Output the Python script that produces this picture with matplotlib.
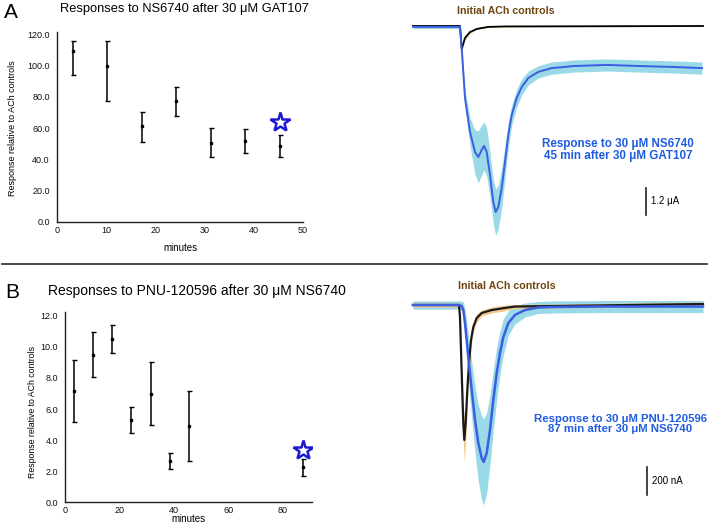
import numpy as np
import matplotlib
matplotlib.use("Agg")
import matplotlib.pyplot as plt
from matplotlib.ticker import FormatStrFormatter

plt.rcParams['font.family'] = ['Liberation Sans', 'DejaVu Sans']

# ---------------- Data: panel A (time course) ----------------
a_minutes = [3.4, 10.3, 17.3, 24.3, 31.3, 38.3, 45.3]
a_resp = [109.5, 100.0, 61.0, 77.0, 50.5, 52.0, 48.5]
a_err_lo = [15.5, 22.5, 9.8, 9.5, 9.0, 7.8, 7.1]
a_err_hi = [6.5, 16.0, 9.5, 9.2, 9.3, 7.2, 6.8]
a_star_x = [45.3]
a_star_y = [64.0]

# ---------------- Data: panel B (time course) ----------------
b_minutes = [3.3, 10.4, 17.4, 24.3, 31.4, 38.4, 45.4, 87.3]
b_resp = [7.18, 9.49, 10.5, 5.29, 6.98, 2.66, 4.91, 2.25]
b_err_lo = [1.99, 1.41, 0.9, 0.81, 2.03, 0.52, 2.25, 0.58]
b_err_hi = [1.97, 1.44, 0.9, 0.81, 2.02, 0.49, 2.22, 0.55]
b_star_x = [87.3]
b_star_y = [3.36]

# ---------------- Data: panel A traces (s, uA) ----------------
a_t_blue = [-47, -5, 0, 1.7, 5, 10, 15, 18.3, 21.7, 24, 26.7, 30, 33.3, 35.7, 38.3,
            41.7, 45, 48.3, 51.7, 56.7, 61.7, 68.3, 78.3, 91.7, 105, 113, 147, 180, 213, 242]
a_i_blue = [-0.04, -0.04, -0.04, -0.98, -3.20, -4.71, -5.60, -5.82, -5.51, -5.33, -5.60,
            -6.62, -7.82, -8.27, -8.04, -7.20, -6.04, -4.84, -3.96, -3.20, -2.71, -2.31,
            -2.04, -1.87, -1.82, -1.78, -1.73, -1.78, -1.82, -1.87]
a_sem_blue = [0.07, 0.07, 0.09, 0.18, 0.36, 0.62, 0.98, 1.16, 1.11, 1.07, 1.07, 0.98,
              0.98, 1.02, 0.98, 0.89, 0.71, 0.58, 0.44, 0.40, 0.36, 0.31, 0.27, 0.27,
              0.27, 0.27, 0.27, 0.27, 0.27, 0.27]
a_t_ctrl = [-47, 0, 1.0, 1.7, 5, 10, 16.7, 28.3, 45, 243]
a_i_ctrl = [0.0, 0.0, -0.62, -1.02, -0.53, -0.27, -0.13, -0.04, -0.02, 0.0]
a_sem_ctrl = [0.02, 0.02, 0.08, 0.10, 0.08, 0.05, 0.03, 0.02, 0.02, 0.02]

# ---------------- Data: panel B traces (s, nA) ----------------
b_t_blue = [-47, -1, 1.7, 3.3, 5, 8.3, 11.7, 15, 18.3, 21.7, 23.7, 26.7, 30, 33.3, 36.7,
            40, 43.3, 48.3, 55, 65, 78, 95, 140, 190, 243]
b_i_blue = [0, 0, -7, -36, -129, -371, -607, -821, -986, -1093, -1121, -1057, -893,
            -679, -486, -343, -229, -129, -71, -36, -18, -14, -11, -11, -11]
b_sem_blue = [29, 29, 36, 57, 100, 157, 200, 236, 271, 300, 307, 286, 250, 214, 186,
              157, 129, 86, 64, 50, 43, 43, 43, 43, 43]
b_t_ctrl = [-47, -1, 0, 1.7, 3.3, 4.3, 5.7, 7.3, 9, 11, 13.3, 16.7, 21.7, 31.7, 45, 55, 243]
b_i_ctrl = [0, 0, -86, -486, -843, -964, -843, -607, -414, -250, -157, -93, -57, -36,
            -21, -11, 7]
b_sem_ctrl = [14, 14, 36, 86, 129, 157, 129, 100, 71, 50, 36, 29, 21, 21, 21, 14, 14]

# ---------------- Layout helpers ----------------
W, H = 709, 526
fig = plt.figure(figsize=(W / 100, H / 100), dpi=100)


def fx(px):
    return px / W


def fy(py):
    return 1 - py / H


def add_axes_px(left, top, right, bottom):
    return fig.add_axes([fx(left), fy(bottom), (right - left) / W, (bottom - top) / H])


BLUE_TXT = '#1f5ce0'
BROWN_TXT = '#6e4510'
LINE_BLUE = '#3a5fe0'
BAND = '#9ad9e8'


def style_timecourse(ax):
    for s in ['top', 'right']:
        ax.spines[s].set_visible(False)
    for s in ['left', 'bottom']:
        ax.spines[s].set_linewidth(1.0)
        ax.spines[s].set_color('#222222')
    ax.tick_params(length=0, labelsize=6.5, colors='#111111')
    ax.tick_params(axis='y', pad=5)
    ax.tick_params(axis='x', pad=3)
    ax.yaxis.set_major_formatter(FormatStrFormatter('%.1f'))


# ---------------- Panel A time course ----------------
axA = add_axes_px(56.7, 32.3, 302.7, 221.7)
axA.errorbar(a_minutes, a_resp, yerr=[a_err_lo, a_err_hi], fmt='s', ms=2, color='black',
             ecolor='black', elinewidth=1.1, capsize=1.8, capthick=1.0)
axA.plot(a_star_x, a_star_y, marker='*', ms=15, mfc='white', mec='#1a1ad0', mew=1.8,
         linestyle='none')
axA.set_xlim(0, 50)
axA.set_ylim(0, 121.3)
axA.set_xticks([0, 10, 20, 30, 40, 50])
axA.set_yticks([0, 20, 40, 60, 80, 100, 120])
style_timecourse(axA)
axA.xaxis.set_major_formatter(FormatStrFormatter('%d'))

fig.text(fx(13), fy(128), 'Response relative to ACh controls', rotation=90,
         ha='center', va='center', fontsize=6.5)
fig.text(fx(180), fy(248), 'minutes', ha='center', va='center', fontsize=7)
fig.text(fx(4), fy(13), 'A', ha='left', va='center', fontsize=15)
fig.text(fx(60), fy(9), 'Responses to NS6740 after 30 \u03bcM GAT107', ha='left',
         va='center', fontsize=9.3)

# ---------------- Panel B time course ----------------
axB = add_axes_px(65, 312.3, 311.7, 502.3)
axB.errorbar(b_minutes, b_resp, yerr=[b_err_lo, b_err_hi], fmt='s', ms=2, color='black',
             ecolor='black', elinewidth=1.1, capsize=1.8, capthick=1.0)
axB.plot(b_star_x, b_star_y, marker='*', ms=15, mfc='white', mec='#1a1ad0', mew=1.8,
         linestyle='none')
axB.set_xlim(0, 90.5)
axB.set_ylim(0, 12.22)
axB.set_xticks([0, 20, 40, 60, 80])
axB.set_yticks([0, 2, 4, 6, 8, 10, 12])
style_timecourse(axB)
axB.xaxis.set_major_formatter(FormatStrFormatter('%d'))

fig.text(fx(33), fy(412), 'Response relative to ACh controls', rotation=90,
         ha='center', va='center', fontsize=6.3)
fig.text(fx(188), fy(519.5), 'minutes', ha='center', va='center', fontsize=7)
fig.text(fx(5), fy(293), 'B', ha='left', va='center', fontsize=15)
fig.text(fx(48), fy(291), 'Responses to PNU-120596 after 30 \u03bcM NS6740', ha='left',
         va='center', fontsize=10)

# ---------------- Separator ----------------
fig.add_artist(plt.Line2D([fx(2), fx(707)], [fy(264), fy(264)], color='#3a3a3a', lw=1.3))

# ---------------- Panel A traces ----------------
uA_per_px = 1.2 / 27.0
axTA = add_axes_px(405, 0, 709, 240)
axTA.set_xlim(405 - 460, 709 - 460)
axTA.set_ylim(-(240 - 26) * uA_per_px, 26 * uA_per_px)
axTA.axis('off')
tb = np.array(a_t_blue); ib = np.array(a_i_blue); sb = np.array(a_sem_blue)
tc = np.array(a_t_ctrl); ic = np.array(a_i_ctrl); sc = np.array(a_sem_ctrl)
axTA.fill_between(tb, ib - sb, ib + sb, color=BAND, lw=0, zorder=1)
axTA.fill_between(tc, ic - sc, ic + sc, color='#f3c98a', lw=0, zorder=2)
axTA.plot(tc, ic, color='black', lw=1.3, zorder=3)
axTA.plot(tb, ib, color=LINE_BLUE, lw=1.4, zorder=4)
axTA.plot([185.7, 185.7], [-7.2, -8.4], color='#222222', lw=1.2)
axTA.text(191, -7.8, '1.2 \u03bcA', ha='left', va='center', fontsize=7)
fig.text(fx(506), fy(11), 'Initial ACh controls', ha='center', va='center', fontsize=7.7,
         fontweight='bold', color=BROWN_TXT)
fig.text(fx(618), fy(150), 'Response to 30 \u03bcM NS6740\n45 min after 30 \u03bcM GAT107',
         ha='center', va='center', fontsize=8.4, fontweight='bold', color=BLUE_TXT,
         linespacing=1.0)

# ---------------- Panel B traces ----------------
nA_per_px = 200 / 28.0
axTB = add_axes_px(405, 280, 709, 520)
axTB.set_xlim(405 - 460, 709 - 460)
axTB.set_ylim(-(520 - 305) * nA_per_px, (305 - 280) * nA_per_px)
axTB.axis('off')
tb = np.array(b_t_blue); ib = np.array(b_i_blue); sb = np.array(b_sem_blue)
tc = np.array(b_t_ctrl); ic = np.array(b_i_ctrl); sc = np.array(b_sem_ctrl)
axTB.fill_between(tb, ib - sb, ib + sb, color=BAND, lw=0, zorder=1)
axTB.fill_between(tc, ic - sc, ic + sc, color='#f3c98a', lw=0, zorder=2)
axTB.plot(tc, ic, color='#1a1a1a', lw=1.6, zorder=3)
axTB.plot(tb, ib, color=LINE_BLUE, lw=1.8, zorder=4)
axTB.plot([187, 187], [-1157, -1357], color='#222222', lw=1.2)
axTB.text(192, -1257, '200 nA', ha='left', va='center', fontsize=7)
fig.text(fx(507), fy(286), 'Initial ACh controls', ha='center', va='center', fontsize=7.7,
         fontweight='bold', color=BROWN_TXT)
fig.text(fx(620), fy(424), 'Response to 30 \u03bcM PNU-120596\n87 min after 30 \u03bcM NS6740',
         ha='center', va='center', fontsize=8.2, fontweight='bold', color=BLUE_TXT,
         linespacing=0.95)

fig.savefig('out.png', dpi=100)
